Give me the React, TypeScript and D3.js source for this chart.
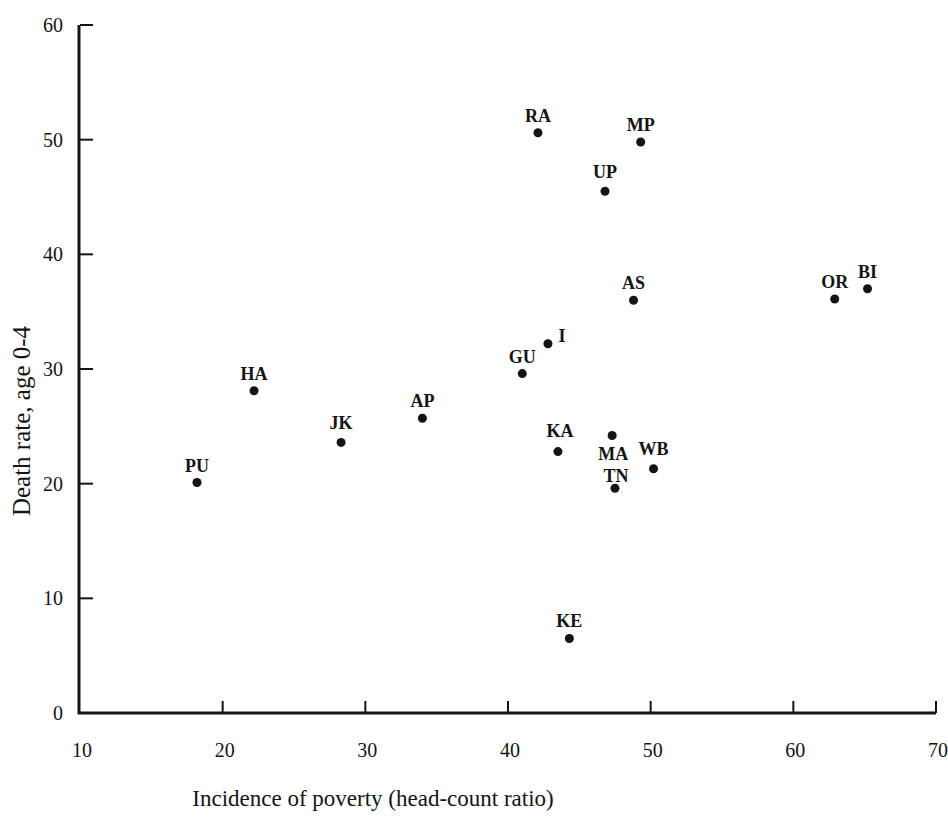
import { useEffect, useRef } from "react";
import * as d3 from "d3";

const states = ["RA", "MP", "UP", "AS", "OR", "BI", "I", "GU", "HA", "AP", "JK", "KA", "MA", "WB", "TN", "PU", "KE"];
const poverty = [42.1, 49.3, 46.8, 48.8, 62.9, 65.2, 42.8, 41.0, 22.2, 34.0, 28.3, 43.5, 47.3, 50.2, 47.5, 18.2, 44.3];
const deathRate = [50.6, 49.8, 45.5, 36.0, 36.1, 37.0, 32.2, 29.6, 28.1, 25.7, 23.6, 22.8, 24.2, 21.3, 19.6, 20.1, 6.5];
const xTicks = [10, 20, 30, 40, 50, 60, 70];
const yTicks = [0, 10, 20, 30, 40, 50, 60];

// where each label sits relative to its dot
const labelOffset: Record<string, [number, number]> = {
  I: [14, -2],
  MA: [1, 24],
  TN: [1, -6],
  KA: [2, -15],
  WB: [0, -14],
  UP: [0, -13],
  JK: [0, -13],
};

const App = () => {
  const ref = useRef<SVGSVGElement>(null);

  useEffect(() => {
    const svg = d3.select(ref.current);
    svg.selectAll("*").remove();

    const x = d3.scaleLinear().domain([10, 70]).range([80, 936]);
    const y = d3.scaleLinear().domain([0, 60]).range([713, 25]);
    const ink = "#141414";
    const font = "'Liberation Serif', 'DejaVu Serif', serif";

    // axes
    svg
      .append("path")
      .attr("d", `M${x(10) - 1},${y(60)} L${x(10) - 1},${y(0)} L${x(70)},${y(0)}`)
      .attr("fill", "none")
      .attr("stroke", ink)
      .attr("stroke-width", 3);

    svg
      .selectAll(".ytick")
      .data(yTicks.filter((d) => d > 0))
      .enter()
      .append("line")
      .attr("x1", x(10))
      .attr("x2", x(10) + 13)
      .attr("y1", (d) => y(d))
      .attr("y2", (d) => y(d))
      .attr("stroke", ink)
      .attr("stroke-width", 2);

    svg
      .selectAll(".xtick")
      .data(xTicks.filter((d) => d > 10))
      .enter()
      .append("line")
      .attr("x1", (d) => x(d))
      .attr("x2", (d) => x(d))
      .attr("y1", y(0))
      .attr("y2", y(0) - 12)
      .attr("stroke", ink)
      .attr("stroke-width", 2);

    svg
      .selectAll(".ylab")
      .data(yTicks)
      .enter()
      .append("text")
      .attr("x", 63)
      .attr("y", (d) => y(d) + 7)
      .attr("text-anchor", "end")
      .style("font-family", font)
      .style("font-size", "20px")
      .attr("fill", ink)
      .text((d) => d);

    svg
      .selectAll(".xlab")
      .data(xTicks)
      .enter()
      .append("text")
      .attr("x", (d) => x(d) + 2)
      .attr("y", 757)
      .attr("text-anchor", "middle")
      .style("font-family", font)
      .style("font-size", "20px")
      .attr("fill", ink)
      .text((d) => d);

    // titles
    svg
      .append("text")
      .attr("transform", "translate(30,421) rotate(-90)")
      .attr("text-anchor", "middle")
      .style("font-family", font)
      .style("font-size", "25px")
      .attr("fill", ink)
      .text("Death rate, age 0-4");

    svg
      .append("text")
      .attr("x", 373)
      .attr("y", 806)
      .attr("text-anchor", "middle")
      .style("font-family", font)
      .style("font-size", "23px")
      .attr("fill", ink)
      .text("Incidence of poverty (head-count ratio)");

    // points
    const idx = d3.range(states.length);
    svg
      .selectAll(".dot")
      .data(idx)
      .enter()
      .append("circle")
      .attr("cx", (i) => x(poverty[i]))
      .attr("cy", (i) => y(deathRate[i]))
      .attr("r", 4.5)
      .attr("fill", ink);

    svg
      .selectAll(".state")
      .data(idx)
      .enter()
      .append("text")
      .attr("x", (i) => x(poverty[i]) + (labelOffset[states[i]]?.[0] ?? 0))
      .attr("y", (i) => y(deathRate[i]) + (labelOffset[states[i]]?.[1] ?? -11))
      .attr("text-anchor", "middle")
      .style("font-family", font)
      .style("font-size", "18px")
      .style("font-weight", "bold")
      .attr("fill", ink)
      .text((i) => states[i]);
  }, []);

  return (
    <svg
      ref={ref}
      width={948}
      height={821}
      style={{ position: "absolute", left: 0, top: 0, background: "#fff" }}
    />
  );
};

export default App;
